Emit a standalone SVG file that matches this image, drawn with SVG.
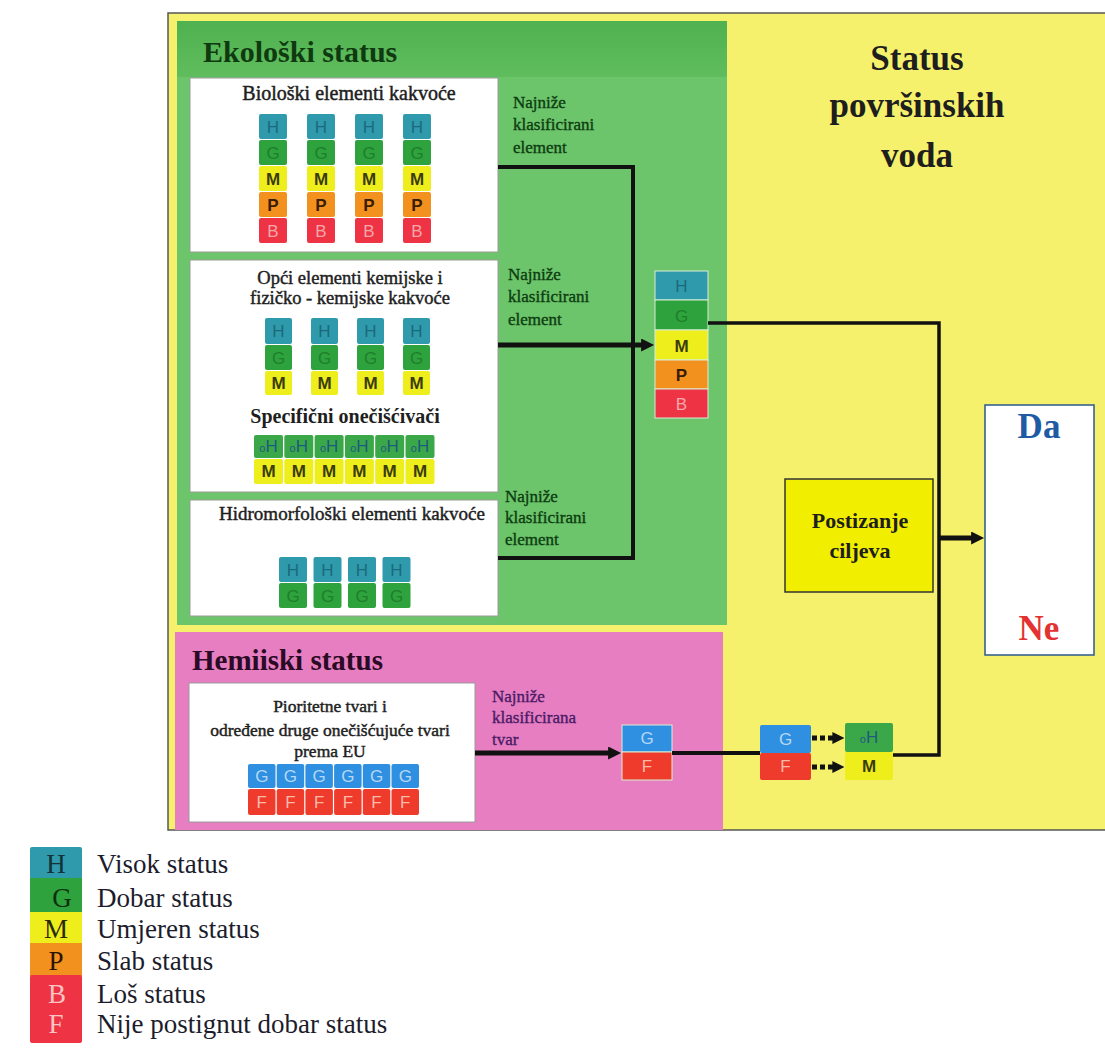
<svg xmlns="http://www.w3.org/2000/svg" width="1105" height="1052" viewBox="0 0 1105 1052">
<style>
.serif{font-family:"Liberation Serif","DejaVu Serif",serif}
.sans{font-family:"Liberation Sans","DejaVu Sans",sans-serif}
.cell text, text.cl{font-family:"Liberation Sans","DejaVu Sans",sans-serif;font-size:17px;text-anchor:middle}
.cH{fill:#2f9aab}.tH{fill:#1b6a7c}
.cG{fill:#2ea23c}.tG{fill:#1f7e2c}
.cM{fill:#eeee1c}.tM{fill:#3c3c0c;font-weight:bold}
.cP{fill:#f3911f}.tP{fill:#3a1c04;font-weight:bold}
.cB{fill:#ee3344}.tB{fill:#f7a7aa}
.cGb{fill:#2f8fe0}.tGb{fill:#b5d8f7}
.cF{fill:#ef3b2b}.tF{fill:#f8baa9}
.cOH{fill:#3aa848}.tOH{fill:#1f5a80}
.wbox{fill:#ffffff;stroke:#9a9a9a;stroke-width:1}
.ttl{font-family:"Liberation Serif","DejaVu Serif",serif;fill:#1e1e1e;text-anchor:middle}
.semi{stroke:#1e1e1e;stroke-width:0.45}
.lblg{font-family:"Liberation Serif","DejaVu Serif",serif;font-size:17px;fill:#0c3c10;stroke:#0c3c10;stroke-width:0.35}
.lblp{font-family:"Liberation Serif","DejaVu Serif",serif;font-size:17px;fill:#4a1a66;stroke:#4a1a66;stroke-width:0.35}
.conn{fill:none;stroke:#111;stroke-linejoin:miter}
.leg{font-family:"Liberation Serif","DejaVu Serif",serif;font-size:27px;fill:#1c1c2c}
.legl{font-family:"Liberation Serif","DejaVu Serif",serif;font-size:27px;text-anchor:middle}
.stk rect{stroke:#d8eed4;stroke-width:1}
</style>
<defs>
<linearGradient id="hdr" x1="0" y1="0" x2="0" y2="1">
<stop offset="0" stop-color="#4fb14f"/>
<stop offset="1" stop-color="#60bd5e"/>
</linearGradient>
<marker id="ah" viewBox="0 0 10 10" refX="3" refY="5" markerWidth="14" markerHeight="13" markerUnits="userSpaceOnUse" orient="auto">
<path d="M0,0 L10,5 L0,10 z" fill="#111"/>
</marker>
<marker id="ahs" viewBox="0 0 10 10" refX="3" refY="5" markerWidth="12" markerHeight="12" markerUnits="userSpaceOnUse" orient="auto">
<path d="M0,0 L10,5 L0,10 z" fill="#111"/>
</marker>
</defs>

<rect x="0" y="0" width="1105" height="1052" fill="#ffffff"/>

<!-- frame -->
<g id="frame">
<rect x="168" y="13" width="937" height="817" fill="#f6f16c"/>
<path d="M1105,13 H168 V830 H1105" fill="none" stroke="#555" stroke-width="1.5"/>
</g>

<!-- Ecological status panel -->
<g id="panel-ekoloski">
<rect x="177" y="21" width="550" height="604" fill="#6cc46b"/>
<rect x="177" y="21" width="550" height="56" fill="url(#hdr)"/>
<text class="serif" x="203" y="62" font-size="30" font-weight="bold" fill="#0f3a10">Ekološki status</text>
</g>

<g id="box-bioloski">
<rect class="wbox" x="190" y="78" width="308" height="174"/>
<text class="ttl semi" x="349" y="100" font-size="20">Biološki elementi kakvoće</text>
<g class="cell">
<rect class="cH" x="259" y="114" width="28" height="25" rx="2"/><text class="tH" x="273" y="133">H</text>
<rect class="cG" x="259" y="140" width="28" height="25" rx="2"/><text class="tG" x="273" y="159">G</text>
<rect class="cM" x="259" y="166" width="28" height="25" rx="2"/><text class="tM" x="273" y="185">M</text>
<rect class="cP" x="259" y="192" width="28" height="25" rx="2"/><text class="tP" x="273" y="211">P</text>
<rect class="cB" x="259" y="218" width="28" height="25" rx="2"/><text class="tB" x="273" y="237">B</text>
<rect class="cH" x="307" y="114" width="28" height="25" rx="2"/><text class="tH" x="321" y="133">H</text>
<rect class="cG" x="307" y="140" width="28" height="25" rx="2"/><text class="tG" x="321" y="159">G</text>
<rect class="cM" x="307" y="166" width="28" height="25" rx="2"/><text class="tM" x="321" y="185">M</text>
<rect class="cP" x="307" y="192" width="28" height="25" rx="2"/><text class="tP" x="321" y="211">P</text>
<rect class="cB" x="307" y="218" width="28" height="25" rx="2"/><text class="tB" x="321" y="237">B</text>
<rect class="cH" x="355" y="114" width="28" height="25" rx="2"/><text class="tH" x="369" y="133">H</text>
<rect class="cG" x="355" y="140" width="28" height="25" rx="2"/><text class="tG" x="369" y="159">G</text>
<rect class="cM" x="355" y="166" width="28" height="25" rx="2"/><text class="tM" x="369" y="185">M</text>
<rect class="cP" x="355" y="192" width="28" height="25" rx="2"/><text class="tP" x="369" y="211">P</text>
<rect class="cB" x="355" y="218" width="28" height="25" rx="2"/><text class="tB" x="369" y="237">B</text>
<rect class="cH" x="403" y="114" width="28" height="25" rx="2"/><text class="tH" x="417" y="133">H</text>
<rect class="cG" x="403" y="140" width="28" height="25" rx="2"/><text class="tG" x="417" y="159">G</text>
<rect class="cM" x="403" y="166" width="28" height="25" rx="2"/><text class="tM" x="417" y="185">M</text>
<rect class="cP" x="403" y="192" width="28" height="25" rx="2"/><text class="tP" x="417" y="211">P</text>
<rect class="cB" x="403" y="218" width="28" height="25" rx="2"/><text class="tB" x="417" y="237">B</text>
</g>
</g>

<g id="box-opci">
<rect class="wbox" x="190" y="260" width="308" height="232"/>
<text class="ttl semi" x="350" y="284" font-size="18.5">Opći elementi kemijske i</text>
<text class="ttl semi" x="350" y="304" font-size="18.5">fizičko - kemijske kakvoće</text>
<g class="cell">
<rect class="cH" x="265" y="318" width="27" height="26" rx="2"/><text class="tH" x="278.5" y="337">H</text>
<rect class="cG" x="265" y="345" width="27" height="25" rx="2"/><text class="tG" x="278.5" y="364">G</text>
<rect class="cM" x="265" y="371" width="27" height="24" rx="2"/><text class="tM" x="278.5" y="389">M</text>
<rect class="cH" x="311" y="318" width="27" height="26" rx="2"/><text class="tH" x="324.5" y="337">H</text>
<rect class="cG" x="311" y="345" width="27" height="25" rx="2"/><text class="tG" x="324.5" y="364">G</text>
<rect class="cM" x="311" y="371" width="27" height="24" rx="2"/><text class="tM" x="324.5" y="389">M</text>
<rect class="cH" x="357" y="318" width="27" height="26" rx="2"/><text class="tH" x="370.5" y="337">H</text>
<rect class="cG" x="357" y="345" width="27" height="25" rx="2"/><text class="tG" x="370.5" y="364">G</text>
<rect class="cM" x="357" y="371" width="27" height="24" rx="2"/><text class="tM" x="370.5" y="389">M</text>
<rect class="cH" x="403" y="318" width="27" height="26" rx="2"/><text class="tH" x="416.5" y="337">H</text>
<rect class="cG" x="403" y="345" width="27" height="25" rx="2"/><text class="tG" x="416.5" y="364">G</text>
<rect class="cM" x="403" y="371" width="27" height="24" rx="2"/><text class="tM" x="416.5" y="389">M</text>
</g>
<text class="ttl" x="345" y="423" font-size="20" font-weight="bold">Specifični onečišćivači</text>
<g class="cell">
<rect class="cOH" x="254" y="435" width="29" height="23" rx="2"/><text class="tOH" x="268.5" y="452"><tspan font-size="11">o</tspan>H</text>
<rect class="cM" x="254" y="459" width="29" height="25" rx="2"/><text class="tM" x="268.5" y="477">M</text>
<rect class="cOH" x="284.3" y="435" width="29" height="23" rx="2"/><text class="tOH" x="298.8" y="452"><tspan font-size="11">o</tspan>H</text>
<rect class="cM" x="284.3" y="459" width="29" height="25" rx="2"/><text class="tM" x="298.8" y="477">M</text>
<rect class="cOH" x="314.6" y="435" width="29" height="23" rx="2"/><text class="tOH" x="329.1" y="452"><tspan font-size="11">o</tspan>H</text>
<rect class="cM" x="314.6" y="459" width="29" height="25" rx="2"/><text class="tM" x="329.1" y="477">M</text>
<rect class="cOH" x="344.9" y="435" width="29" height="23" rx="2"/><text class="tOH" x="359.4" y="452"><tspan font-size="11">o</tspan>H</text>
<rect class="cM" x="344.9" y="459" width="29" height="25" rx="2"/><text class="tM" x="359.4" y="477">M</text>
<rect class="cOH" x="375.2" y="435" width="29" height="23" rx="2"/><text class="tOH" x="389.7" y="452"><tspan font-size="11">o</tspan>H</text>
<rect class="cM" x="375.2" y="459" width="29" height="25" rx="2"/><text class="tM" x="389.7" y="477">M</text>
<rect class="cOH" x="405.5" y="435" width="29" height="23" rx="2"/><text class="tOH" x="420" y="452"><tspan font-size="11">o</tspan>H</text>
<rect class="cM" x="405.5" y="459" width="29" height="25" rx="2"/><text class="tM" x="420" y="477">M</text>
</g>
</g>

<g id="box-hidromorfoloski">
<rect class="wbox" x="190" y="500" width="308" height="116"/>
<text class="ttl semi" x="352" y="520" font-size="19">Hidromorfološki elementi kakvoće</text>
<g class="cell">
<rect class="cH" x="279" y="557" width="28" height="25" rx="2"/><text class="tH" x="293" y="576">H</text>
<rect class="cG" x="279" y="583" width="28" height="25" rx="2"/><text class="tG" x="293" y="602">G</text>
<rect class="cH" x="313.5" y="557" width="28" height="25" rx="2"/><text class="tH" x="327.5" y="576">H</text>
<rect class="cG" x="313.5" y="583" width="28" height="25" rx="2"/><text class="tG" x="327.5" y="602">G</text>
<rect class="cH" x="348" y="557" width="28" height="25" rx="2"/><text class="tH" x="362" y="576">H</text>
<rect class="cG" x="348" y="583" width="28" height="25" rx="2"/><text class="tG" x="362" y="602">G</text>
<rect class="cH" x="382.5" y="557" width="28" height="25" rx="2"/><text class="tH" x="396.5" y="576">H</text>
<rect class="cG" x="382.5" y="583" width="28" height="25" rx="2"/><text class="tG" x="396.5" y="602">G</text>
</g>
</g>

<g id="labels-ekoloski">
<text class="lblg" x="513" y="108">Najniže</text>
<text class="lblg" x="513" y="130">klasificirani</text>
<text class="lblg" x="513" y="153">element</text>
<text class="lblg" x="508" y="280">Najniže</text>
<text class="lblg" x="508" y="302">klasificirani</text>
<text class="lblg" x="508" y="325">element</text>
<text class="lblg" x="505" y="502">Najniže</text>
<text class="lblg" x="505" y="523">klasificirani</text>
<text class="lblg" x="505" y="545">element</text>
</g>

<g id="stack-ekoloski" class="stk">
<rect class="cH" x="655" y="271" width="53" height="29"/><text class="cl tH" x="681.5" y="292" font-size="18">H</text>
<rect class="cG" x="655" y="300" width="53" height="30"/><text class="cl tG" x="681.5" y="322" font-size="18">G</text>
<rect class="cM" x="655" y="330" width="53" height="30"/><text class="cl tM" x="681.5" y="352" font-size="18">M</text>
<rect class="cP" x="655" y="360" width="53" height="29"/><text class="cl tP" x="681.5" y="381" font-size="18">P</text>
<rect class="cB" x="655" y="389" width="53" height="29"/><text class="cl tB" x="681.5" y="410" font-size="18">B</text>
</g>

<!-- Chemical status panel -->
<g id="panel-hemijski">
<rect x="175" y="632" width="548" height="198" fill="#e67ec1"/>
<text class="serif" x="192" y="670" font-size="29" font-weight="bold" fill="#2a0a24">Hemiiski status</text>
</g>

<g id="box-prioritetne">
<rect class="wbox" x="189" y="683" width="286" height="139"/>
<text class="ttl semi" x="330" y="712" font-size="17.5">Pioritetne tvari i</text>
<text class="ttl semi" x="330" y="736" font-size="17.5">određene druge onečišćujuće tvari</text>
<text class="ttl semi" x="330" y="757" font-size="17.5">prema EU</text>
<g class="cell">
<rect class="cGb" x="248" y="764" width="27.5" height="24" rx="2"/><text class="tGb" x="261.75" y="782">G</text>
<rect class="cF" x="248" y="789" width="27.5" height="26" rx="2"/><text class="tF" x="261.75" y="808">F</text>
<rect class="cGb" x="276.7" y="764" width="27.5" height="24" rx="2"/><text class="tGb" x="290.45" y="782">G</text>
<rect class="cF" x="276.7" y="789" width="27.5" height="26" rx="2"/><text class="tF" x="290.45" y="808">F</text>
<rect class="cGb" x="305.4" y="764" width="27.5" height="24" rx="2"/><text class="tGb" x="319.15" y="782">G</text>
<rect class="cF" x="305.4" y="789" width="27.5" height="26" rx="2"/><text class="tF" x="319.15" y="808">F</text>
<rect class="cGb" x="334.1" y="764" width="27.5" height="24" rx="2"/><text class="tGb" x="347.85" y="782">G</text>
<rect class="cF" x="334.1" y="789" width="27.5" height="26" rx="2"/><text class="tF" x="347.85" y="808">F</text>
<rect class="cGb" x="362.8" y="764" width="27.5" height="24" rx="2"/><text class="tGb" x="376.55" y="782">G</text>
<rect class="cF" x="362.8" y="789" width="27.5" height="26" rx="2"/><text class="tF" x="376.55" y="808">F</text>
<rect class="cGb" x="391.5" y="764" width="27.5" height="24" rx="2"/><text class="tGb" x="405.25" y="782">G</text>
<rect class="cF" x="391.5" y="789" width="27.5" height="26" rx="2"/><text class="tF" x="405.25" y="808">F</text>
</g>
</g>

<g id="labels-hemijski">
<text class="lblp" x="492" y="702">Najniže</text>
<text class="lblp" x="492" y="723">klasificirana</text>
<text class="lblp" x="492" y="745">tvar</text>
</g>

<g id="stack-hemijski" class="stk">
<rect class="cGb" x="622" y="725" width="50" height="27"/><text class="cl tGb" x="647" y="744">G</text>
<rect class="cF" x="622" y="752" width="50" height="28"/><text class="cl tF" x="647" y="772">F</text>
</g>

<g id="stack-hemijski-2" class="cell">
<rect class="cGb" x="760" y="725" width="51" height="28" rx="2"/><text class="tGb" x="785.5" y="745">G</text>
<rect class="cF" x="760" y="753" width="51" height="27" rx="2"/><text class="tF" x="785.5" y="772">F</text>
</g>

<g id="stack-konacni" class="cell">
<rect class="cOH" x="845" y="723" width="48" height="29" rx="2"/><text class="tOH" x="869" y="743"><tspan font-size="11">o</tspan>H</text>
<rect class="cM" x="845" y="752" width="48" height="28" rx="2"/><text class="tM" x="869" y="772">M</text>
</g>

<g id="title-status">
<text class="ttl" x="917" y="70" font-size="35" font-weight="bold">Status</text>
<text class="ttl" x="917" y="117" font-size="35" font-weight="bold">površinskih</text>
<text class="ttl" x="917" y="167" font-size="35" font-weight="bold">voda</text>
</g>

<g id="box-postizanje">
<rect x="785" y="479" width="148" height="113" fill="#f2ee00" stroke="#333" stroke-width="1.5"/>
<text class="ttl" x="860" y="528" font-size="22" font-weight="bold">Postizanje</text>
<text class="ttl" x="860" y="558" font-size="22" font-weight="bold">ciljeva</text>
</g>

<g id="box-da-ne">
<rect x="985" y="405" width="109" height="250" fill="#ffffff" stroke="#2a5a8a" stroke-width="1.5"/>
<text class="ttl" x="1039" y="438" font-size="35" font-weight="bold" style="fill:#1f5aa5">Da</text>
<text class="ttl" x="1039" y="640" font-size="35" font-weight="bold" style="fill:#e43232">Ne</text>
</g>

<!-- connectors -->
<g id="connectors">
<path class="conn" d="M498,167 H633 V558 H498" stroke-width="4"/>
<path class="conn" d="M498,345 H645" stroke-width="5" marker-end="url(#ah)"/>
<path class="conn" d="M708,323 H939 V755 H893" stroke-width="3.5"/>
<path class="conn" d="M939,538 H975" stroke-width="5" marker-end="url(#ah)"/>
<path class="conn" d="M475,753 H612" stroke-width="5" marker-end="url(#ah)"/>
<path class="conn" d="M672,753 H760" stroke-width="4"/>
<path class="conn" d="M812,738 H836" stroke-width="5" stroke-dasharray="5 3" marker-end="url(#ahs)"/>
<path class="conn" d="M812,767 H836" stroke-width="5" stroke-dasharray="5 3" marker-end="url(#ahs)"/>
</g>

<!-- legend -->
<g id="legend">
<rect x="30" y="847" width="52" height="32" fill="#2f9aab" rx="2"/>
<rect x="30" y="878" width="52" height="35" fill="#2ea23c"/>
<rect x="30" y="912" width="52" height="32" fill="#eeee1c"/>
<rect x="30" y="943" width="52" height="33" fill="#f3911f"/>
<rect x="30" y="975" width="52" height="68" fill="#ee3344" rx="2"/>
<text class="legl" x="56" y="873" fill="#14323a">H</text>
<text class="legl" x="62" y="907" fill="#0c300e">G</text>
<text class="legl" x="56" y="938" fill="#2a2a06">M</text>
<text class="legl" x="56" y="970" fill="#2a1404">P</text>
<text class="legl" x="57" y="1003" fill="#f8c4c4">B</text>
<text class="legl" x="56" y="1033" fill="#f8c4c4">F</text>
<text class="leg" x="97" y="873">Visok status</text>
<text class="leg" x="97" y="907">Dobar status</text>
<text class="leg" x="97" y="938">Umjeren status</text>
<text class="leg" x="97" y="970">Slab status</text>
<text class="leg" x="97" y="1003">Loš status</text>
<text class="leg" x="97" y="1033">Nije postignut dobar status</text>
</g>
</svg>
